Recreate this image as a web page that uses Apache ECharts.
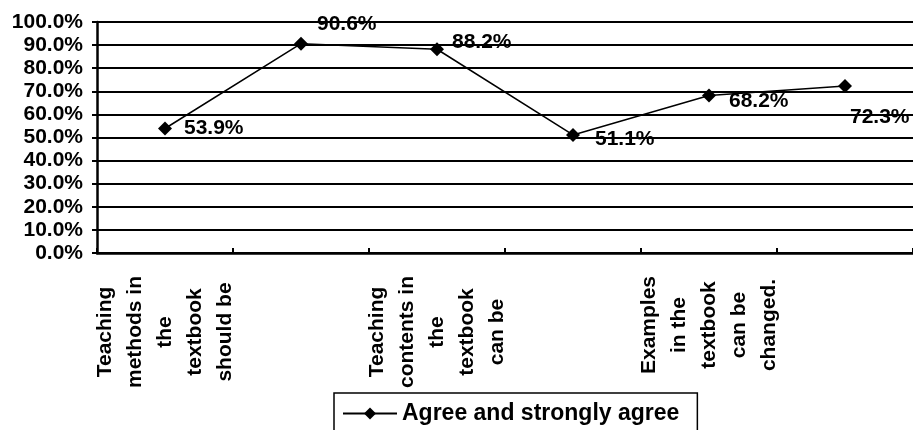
<!DOCTYPE html>
<html><head><meta charset="utf-8">
<script src="https://cdn.jsdelivr.net/npm/echarts@6/dist/echarts.min.js"></script>
<style>html,body{margin:0;padding:0;background:#fff}#c{width:913px;height:430px}</style>
</head><body><div id="c"></div>
<script>
// ---- data ----
const categories = [
  "Teaching\nmethods in\nthe\ntextbook\nshould be",
  "",
  "Teaching\ncontents in\nthe\ntextbook\ncan be",
  "",
  "Examples\nin the\ntextbook\ncan be\nchanged.",
  ""
];
const seriesName = "Agree and strongly agree";
const agreeValues = [53.9, 90.6, 88.2, 51.1, 68.2, 72.3];
const yMin = 0, yMax = 100, yStep = 10;

// ---- style ----
const FF = "'Liberation Sans', Arial, sans-serif";
const labelOffsets = [[7, 0], [4, -20], [3, -7], [10, 4], [8, 6], [-7, 31]];

const chart = echarts.init(document.getElementById('c'), null, {renderer: 'canvas'});
chart.setOption({
  animation: false,
  backgroundColor: '#fff',
  grid: {left: 97, right: 0, top: 22, bottom: 177, containLabel: false},
  xAxis: {
    type: 'category',
    data: categories,
    boundaryGap: true,
    axisLine: {lineStyle: {color: '#000', width: 2.5}},
    axisTick: {show: true, inside: true, length: 5, interval: 0, lineStyle: {color: '#000', width: 2}},
    splitLine: {show: false},
    axisLabel: {
      interval: 1,
      rotate: 90,
      margin: 23,
      color: '#000',
      fontFamily: FF,
      fontWeight: 'bold',
      fontSize: 21,
      lineHeight: 30,
      formatter: v => v.split('\n').map(l => '{c|' + l + '}').join('\n'),
      rich: {c: {align: 'center', fontFamily: FF, fontWeight: 'bold', fontSize: 21, lineHeight: 30, color: '#000'}}
    }
  },
  yAxis: {
    type: 'value',
    min: yMin, max: yMax, interval: yStep,
    axisLine: {show: true, lineStyle: {color: '#000', width: 2.5}},
    axisTick: {show: true, inside: false, length: 5, lineStyle: {color: '#000', width: 2}},
    splitLine: {show: true, lineStyle: {color: '#000', width: 2}},
    axisLabel: {
      margin: 14,
      color: '#000',
      fontFamily: FF,
      fontWeight: 'bold',
      fontSize: 21,
      formatter: v => v.toFixed(1) + '%'
    }
  },
  legend: {
    left: 334, top: 393,
    padding: [9, 18, 20, 8],
    borderColor: '#000', borderWidth: 1.5,
    itemWidth: 54, itemHeight: 15, itemGap: 10,
    textStyle: {color: '#000', fontFamily: FF, fontWeight: 'bold', fontSize: 23},
    data: [seriesName]
  },
  series: [{
    name: seriesName,
    type: 'line',
    data: agreeValues.map((v, i) => ({value: v, label: {offset: labelOffsets[i]}})),
    symbol: 'diamond',
    symbolSize: 14,
    itemStyle: {color: '#000'},
    lineStyle: {color: '#000', width: 1.5},
    label: {
      show: true, position: 'right', distance: 5,
      color: '#000', fontFamily: FF, fontWeight: 'bold', fontSize: 21,
      formatter: p => p.value.toFixed(1) + '%'
    }
  }]
});
</script></body></html>
